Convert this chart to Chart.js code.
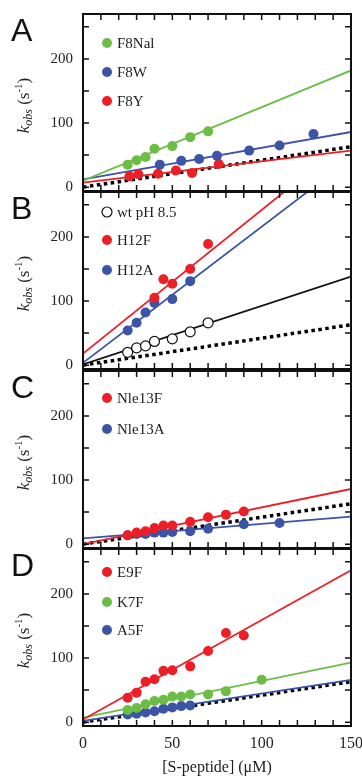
<!DOCTYPE html>
<html>
<head>
<meta charset="utf-8">
<script src="https://cdn.jsdelivr.net/npm/chart.js@4.4.0/dist/chart.umd.min.js"></script>
<style>
html, body { margin: 0; padding: 0; background: #fff; }
#wrap { position: relative; width: 362px; height: 778px; }
#wrap canvas { position: absolute; left: 0; top: 0; }
</style>
</head>
<body>
<div id="wrap">
  <canvas id="pA" width="362" height="778"></canvas>
  <canvas id="pB" width="362" height="778"></canvas>
  <canvas id="pC" width="362" height="778"></canvas>
  <canvas id="pD" width="362" height="778"></canvas>
</div>
<script>
// axis labels
const xTickLabels = [0, 50, 100, 150];
const yTickLabels = [0, 100, 200];
const fitX = [0, 150];
const dottedY = [0, 63];

// A
const f8nalX = [25, 30, 35, 40, 50, 60, 70];
const f8nalY = [35, 42, 47, 60, 64, 78, 87];
const f8nalFit = [10, 182];
const f8wX = [43, 55, 65, 75, 93, 110, 129];
const f8wY = [35, 41, 44, 49, 57, 65, 83];
const f8wFit = [12, 86];
const f8yX = [26, 31, 42, 52, 61, 76];
const f8yY = [17, 20, 21, 26, 22, 36];
const f8yFit = [7, 57];

// B
const wtX = [25, 30, 35, 40, 50, 60, 70];
const wtY = [20, 27, 30, 37, 41, 52, 66];
const wtFit = [1, 138];
const h12fX = [40, 45, 50, 60, 70];
const h12fY = [105, 134, 127, 150, 189];
const h12fFit = [18, 354];
const h12aX = [25, 30, 35, 40, 50, 60];
const h12aY = [54, 66, 82, 97, 103, 131];
const h12aFit = [3.6, 322];

// C
const nle13fX = [25, 30, 35, 40, 45, 50, 60, 70, 80, 90];
const nle13fY = [14, 18, 20, 25, 29, 29, 35, 42, 46, 51];
const nle13fFit = [0, 86];
const nle13aX = [25, 30, 35, 40, 45, 50, 60, 70, 90, 110];
const nle13aY = [14, 16, 16, 18, 18, 19, 20, 24, 31, 33];
const nle13aFit = [9, 43];

// D
const e9fX = [25, 30, 35, 40, 45, 50, 60, 70, 80, 90];
const e9fY = [38, 46, 63, 67, 80, 81, 87, 111, 139, 135];
const e9fFit = [4, 237];
const k7fX = [25, 30, 35, 40, 45, 50, 55, 60, 70, 80, 100];
const k7fY = [19, 22, 28, 33, 35, 40, 40, 43, 43, 48, 66];
const k7fFit = [7, 93];
const a5fX = [25, 30, 35, 40, 45, 50, 55, 60];
const a5fY = [12, 13, 15, 17, 21, 23, 25, 26];
const a5fFit = [2, 66];

const GREEN = '#6bbd45', BLUE = '#3b54a5', RED = '#ec1f27';
const SERIF = '"Liberation Serif", "Times New Roman", serif';

const panels = [
  { id: 'pA', letter: 'A', top: 14, legendY: [43, 72, 101], series: [
    { label: 'F8Nal', x: f8nalX, y: f8nalY, fit: f8nalFit, color: GREEN },
    { label: 'F8W', x: f8wX, y: f8wY, fit: f8wFit, color: BLUE },
    { label: 'F8Y', x: f8yX, y: f8yY, fit: f8yFit, color: RED }] },
  { id: 'pB', letter: 'B', top: 192, legendY: [212, 240, 270], series: [
    { label: 'wt pH 8.5', x: wtX, y: wtY, fit: wtFit, color: '#111', open: true },
    { label: 'H12F', x: h12fX, y: h12fY, fit: h12fFit, color: RED },
    { label: 'H12A', x: h12aX, y: h12aY, fit: h12aFit, color: BLUE }] },
  { id: 'pC', letter: 'C', top: 371, legendY: [398, 429], series: [
    { label: 'Nle13F', x: nle13fX, y: nle13fY, fit: nle13fFit, color: RED },
    { label: 'Nle13A', x: nle13aX, y: nle13aY, fit: nle13aFit, color: BLUE }] },
  { id: 'pD', letter: 'D', top: 549, legendY: [572, 602, 630], series: [
    { label: 'E9F', x: e9fX, y: e9fY, fit: e9fFit, color: RED },
    { label: 'K7F', x: k7fX, y: k7fY, fit: k7fFit, color: GREEN },
    { label: 'A5F', x: a5fX, y: a5fY, fit: a5fFit, color: BLUE }] }
];
const PANEL_H = 177;

function pts(xs, ys) {
  return xs.map((x, i) => ({ x: x, y: ys[i] }));
}

function drawKobs(ctx, x, y) {
  const parts = [
    { t: 'k', f: 'italic 17px ' + SERIF, dy: 0 },
    { t: 'obs', f: 'italic 12px ' + SERIF, dy: 3 },
    { t: ' (s', f: '17px ' + SERIF, dy: 0 },
    { t: '-1', f: '11px ' + SERIF, dy: -7 },
    { t: ')', f: '17px ' + SERIF, dy: 0 }
  ];
  ctx.save();
  ctx.translate(x, y);
  ctx.rotate(-Math.PI / 2);
  let w = 0;
  parts.forEach(p => { ctx.font = p.f; p.w = ctx.measureText(p.t).width; w += p.w; });
  let cx = -w / 2;
  ctx.fillStyle = '#222';
  ctx.textBaseline = 'alphabetic';
  parts.forEach(p => { ctx.font = p.f; ctx.fillText(p.t, cx, p.dy); cx += p.w; });
  ctx.restore();
}

// frame, inward ticks, legend, panel letter, y title
const framePlugin = {
  id: 'frame',
  afterDraw(chart, args, opts) {
    const ctx = chart.ctx;
    const a = chart.chartArea;
    const xs = chart.scales.x, ys = chart.scales.y;
    ctx.save();
    ctx.strokeStyle = '#111';
    ctx.lineWidth = 1.5;
    ctx.beginPath();
    for (let v = 10; v < 150; v += 10) {
      const px = xs.getPixelForValue(v);
      ctx.moveTo(px, a.bottom); ctx.lineTo(px, a.bottom - 6);
      ctx.moveTo(px, a.top); ctx.lineTo(px, a.top + 6);
    }
    for (let v = 0; v <= 250; v += 50) {
      const py = ys.getPixelForValue(v);
      ctx.moveTo(a.left, py); ctx.lineTo(a.left + 6, py);
      ctx.moveTo(a.right, py); ctx.lineTo(a.right - 6, py);
    }
    ctx.stroke();
    ctx.lineWidth = 2;
    ctx.strokeRect(a.left, a.top, a.right - a.left, a.bottom - a.top);

    // legend
    const p = opts.panel;
    ctx.font = '15px ' + SERIF;
    ctx.textBaseline = 'middle';
    p.series.forEach((s, i) => {
      const ly = p.legendY[i];
      ctx.beginPath();
      ctx.arc(107, ly, 5, 0, Math.PI * 2);
      if (s.open) {
        ctx.fillStyle = '#fff'; ctx.fill();
        ctx.lineWidth = 1.2; ctx.strokeStyle = '#111'; ctx.stroke();
      } else {
        ctx.fillStyle = s.color; ctx.fill();
      }
      ctx.fillStyle = '#222';
      ctx.fillText(s.label, 117, ly + 1);
    });

    // panel letter
    ctx.fillStyle = '#111';
    ctx.font = '32px "Liberation Sans", Arial, sans-serif';
    ctx.textBaseline = 'alphabetic';
    ctx.fillText(p.letter, 11, p.top + 27);

    drawKobs(ctx, 29, (a.top + a.bottom) / 2 + 3);
    ctx.restore();
  }
};

panels.forEach((p, idx) => {
  const last = idx === panels.length - 1;
  const datasets = [];
  p.series.forEach(s => {
    datasets.push({
      label: s.label,
      data: pts(s.x, s.y),
      showLine: false,
      pointRadius: 5,
      pointBackgroundColor: s.open ? '#fff' : s.color,
      pointBorderColor: s.open ? '#111' : s.color,
      pointBorderWidth: s.open ? 1.2 : 0
    });
  });
  p.series.forEach(s => {
    datasets.push({
      label: s.label + ' fit',
      data: pts(fitX, s.fit),
      showLine: true,
      pointRadius: 0,
      borderColor: s.color,
      borderWidth: 1.8
    });
  });
  datasets.push({
    label: 'reference',
    data: pts(fitX, dottedY),
    showLine: true,
    pointRadius: 0,
    borderColor: '#000',
    borderWidth: 3.5,
    borderDash: [3.5, 3.5]
  });

  const noPad = s => { s.paddingLeft = 0; s.paddingRight = 0; s.paddingTop = 0; s.paddingBottom = 0; };
  const bottomSpace = 778 - p.top - PANEL_H;

  new Chart(document.getElementById(p.id), {
    type: 'scatter',
    data: { datasets: datasets },
    plugins: [framePlugin],
    options: {
      responsive: false,
      animation: false,
      events: [],
      layout: { padding: { top: p.top, bottom: last ? 0 : bottomSpace, left: 0, right: 11 } },
      plugins: { legend: { display: false }, tooltip: { enabled: false }, frame: { panel: p } },
      scales: {
        x: {
          type: 'linear',
          display: last,
          min: 0, max: 150,
          grid: { display: false, drawTicks: false },
          border: { display: false },
          ticks: {
            stepSize: 10, autoSkip: false, maxRotation: 0, padding: 8,
            color: '#222', font: { family: SERIF, size: 16 },
            callback: v => xTickLabels.includes(v) ? String(v) : ''
          },
          title: {
            display: true, text: '[S-peptide] (\u03bcM)', color: '#222',
            font: { family: SERIF, size: 16 }, padding: { top: 0, bottom: 1 }
          },
          afterFit: s => { s.height = last ? bottomSpace : 0; noPad(s); }
        },
        y: {
          type: 'linear',
          min: -6, max: 270,
          grid: { display: false, drawTicks: false },
          border: { display: false },
          ticks: {
            stepSize: 50, padding: 10, color: '#222', includeBounds: false,
            font: { family: SERIF, size: 15 },
            callback: v => yTickLabels.includes(v) ? String(v) : ''
          },
          afterFit: s => { s.width = 83; noPad(s); }
        }
      }
    }
  });
});
</script>
</body>
</html>
